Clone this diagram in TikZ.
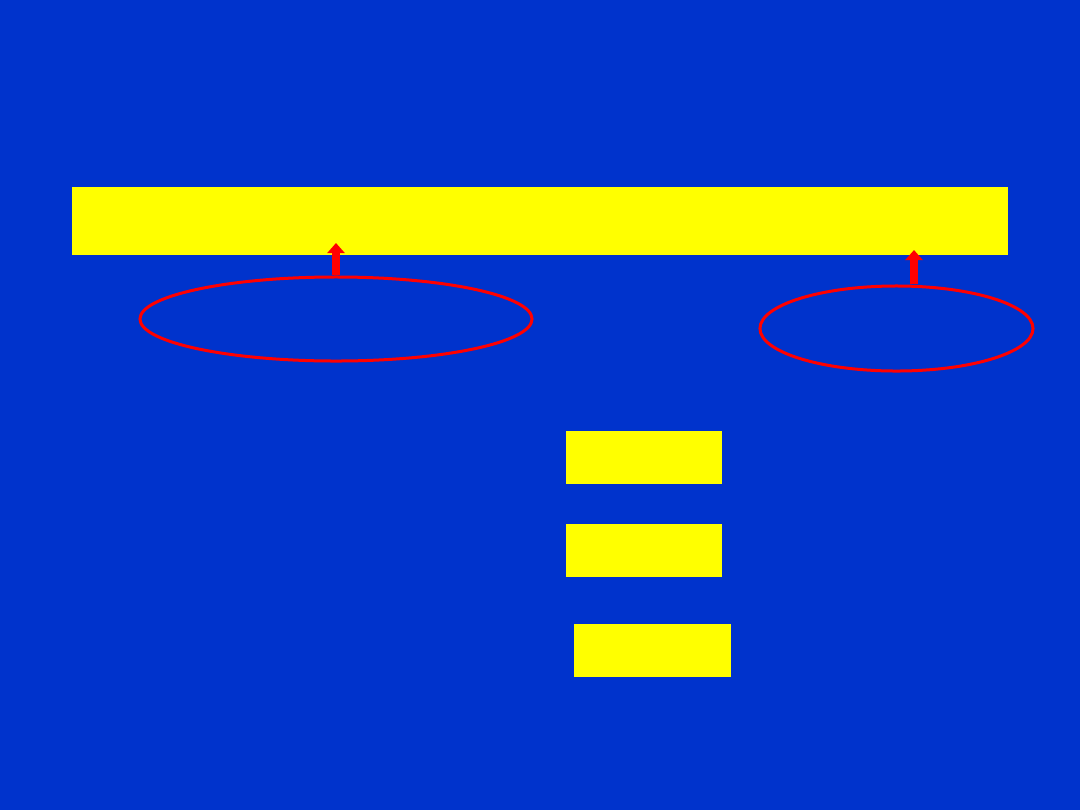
\documentclass[tikz,border=0pt]{standalone}
\usepackage{tikz}
\usepackage{xcolor}
\usetikzlibrary{arrows.meta, positioning, shapes.geometric}

\definecolor{slideblue}{HTML}{0033CC}
\definecolor{baryellow}{HTML}{FFFF00}
\definecolor{ringred}{HTML}{FF0000}

\begin{document}
\begin{tikzpicture}[
        x=0.025cm, y=-0.025cm,
        bar/.style={fill=baryellow, draw=none, rectangle, inner sep=0pt},
        ring/.style={draw=ringred, ellipse, line width=0.075cm, inner sep=0pt},
        pointer/.style={draw=ringred, line width=0.2cm,
            -{Triangle[width=0.425cm, length=0.25cm]}}
    ]

    % Background
    \fill[slideblue] (0,0) rectangle (1080,810);
    \useasboundingbox (0,0) rectangle (1080,810);

    % Top Bar
    \node[bar, minimum width=23.4cm, minimum height=1.7cm] (topbar) at (540,221) {};

    % Ellipses
    \node[ring, minimum width=9.8cm, minimum height=2.1cm] (ringL) at (336,319) {};
    \node[ring, minimum width=6.825cm, minimum height=2.125cm] (ringR) at (896.5,328.5) {};

    % Lower Boxes
    \node[bar, minimum width=3.9cm, minimum height=1.325cm] (boxA) at (644,457.5) {};
    \node[bar, minimum width=3.9cm, minimum height=1.325cm] (boxB) at (644,550.5) {};
    \node[bar, minimum width=3.925cm, minimum height=1.325cm] (boxC) at (652.5,650.5) {};

    % Arrow Tips
    \coordinate (tipL) at (336,243);
    \coordinate (tipR) at (914,250);

    % Draw Arrows
    \draw[pointer] (ringL.north) -- (tipL);
    \draw[pointer] (ringR.north -| tipR) -- (tipR);

\end{tikzpicture}
\end{document}
